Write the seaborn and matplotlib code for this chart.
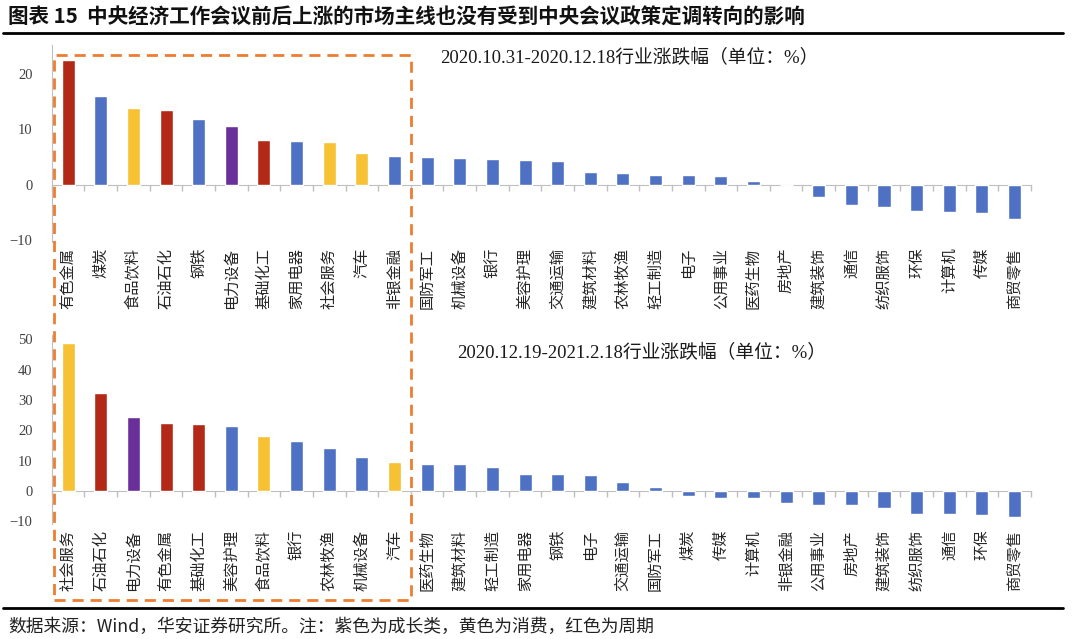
import numpy as np
import pandas as pd
import matplotlib
matplotlib.use("Agg")
import matplotlib.pyplot as plt
import seaborn as sns
from matplotlib.patches import Rectangle
from matplotlib.lines import Line2D

# ---- data ----
top_names = ["有色金属", "煤炭", "食品饮料", "石油石化", "钢铁", "电力设备", "基础化工", "家用电器",
             "社会服务", "汽车", "非银金融", "国防军工", "机械设备", "银行", "美容护理", "交通运输",
             "建筑材料", "农林牧渔", "轻工制造", "电子", "公用事业", "医药生物", "房地产", "建筑装饰",
             "通信", "纺织服饰", "环保", "计算机", "传媒", "商贸零售"]
top_values = [22.5, 16.0, 13.8, 13.5, 11.9, 10.6, 8.1, 7.8, 7.7, 5.6, 5.2, 4.9, 4.7, 4.6, 4.5,
              4.2, 2.2, 2.0, 1.7, 1.7, 1.5, 0.7, 0.0, -2.3, -3.7, -4.1, -4.8, -4.9, -5.2, -6.2]
top_groups = ["周期", "其他", "消费", "周期", "其他", "成长", "周期", "其他", "消费", "消费",
              "其他"] + ["其他"] * 19

bot_names = ["社会服务", "石油石化", "电力设备", "有色金属", "基础化工", "美容护理", "食品饮料", "银行",
             "农林牧渔", "机械设备", "汽车", "医药生物", "建筑材料", "轻工制造", "家用电器", "钢铁",
             "电子", "交通运输", "国防军工", "煤炭", "传媒", "计算机", "非银金融", "公用事业",
             "房地产", "建筑装饰", "纺织服饰", "通信", "环保", "商贸零售"]
bot_values = [48.7, 32.2, 24.4, 22.3, 22.2, 21.3, 18.2, 16.4, 14.0, 11.2, 9.6, 8.9, 8.9, 7.9, 5.7,
              5.5, 5.4, 2.9, 1.2, -1.5, -2.2, -2.4, -4.1, -4.5, -4.5, -5.7, -7.7, -7.7, -7.9, -8.7]
bot_groups = ["消费", "周期", "成长", "周期", "周期", "其他", "消费", "其他", "其他", "其他",
              "消费"] + ["其他"] * 19

top_title = "2020.10.31-2020.12.18行业涨跌幅（单位：%）"
bot_title = "2020.12.19-2021.2.18行业涨跌幅（单位：%）"
fig_title = "图表 15  中央经济工作会议前后上涨的市场主线也没有受到中央会议政策定调转向的影响"
source = "数据来源：Wind，华安证券研究所。注：紫色为成长类，黄色为消费，红色为周期"

palette = {"周期": "#B22A17", "消费": "#F6C233", "成长": "#6B2F9A", "其他": "#4F71C4"}

sns.set_style("white")
plt.rcParams["font.family"] = ["Noto Sans CJK SC", "DejaVu Sans"]
num_font = ["Liberation Serif", "Noto Sans CJK SC"]
grey = "#BFBFBF"

fig = plt.figure(figsize=(10.8, 6.39), dpi=100)
ax1 = fig.add_axes([0.048, 0.621, 0.9065, 0.308])
ax2 = fig.add_axes([0.048, 0.1794, 0.9065, 0.297])


def draw_panel(ax, names, values, groups, ylim, yticks):
    df = pd.DataFrame({"name": names, "value": values, "group": groups})
    sns.barplot(data=df, x="name", y="value", hue="group", order=names, palette=palette,
                dodge=False, width=0.4, legend=False, ax=ax, saturation=1)
    ax.set_xlim(-0.5, len(names) - 0.5)
    ax.set_ylim(*ylim)
    ax.set_yticks(yticks)
    ax.set_xlabel("")
    ax.set_ylabel("")
    for s in ["top", "right", "bottom"]:
        ax.spines[s].set_visible(False)
    ax.spines["left"].set_color(grey)
    ax.tick_params(axis="y", length=4, color=grey, labelcolor="#404040", labelsize=10.5, pad=10)
    for lab in ax.get_yticklabels():
        lab.set_family(num_font)
    ax.tick_params(axis="x", length=0, labelsize=11, labelcolor="#262626", pad=4, rotation=90)
    # zero axis with tick marks between categories
    sec = ax.secondary_xaxis(0, transform=ax.transData)
    sec.set_xticks(np.arange(len(names) + 1) - 0.5)
    sec.set_xticklabels([])
    sec.tick_params(axis="x", length=4, color=grey, width=1)
    sec.spines["bottom"].set_color(grey)


draw_panel(ax1, top_names, top_values, top_groups, (-10.4, 25.1), [-10, 0, 10, 20])
draw_panel(ax2, bot_names, bot_values, bot_groups, (-11, 51.5), [-10, 0, 10, 20, 30, 40, 50])

fig.text(629 / 1080, 1 - 58 / 639, top_title, ha="center", va="center", fontsize=13.5,
         family=num_font, color="#1a1a1a")
fig.text(642 / 1080, 1 - 353 / 639, bot_title, ha="center", va="center", fontsize=13.5,
         family=num_font, color="#1a1a1a")

fig.text(8 / 1080, 1 - 17 / 639, fig_title, ha="left", va="center", fontsize=14.8,
         fontweight="bold", color="#111111")
fig.text(8 / 1080, 1 - 627 / 639, source, ha="left", va="center", fontsize=12.8,
         color="#222222")

for yy in [33, 608]:
    fig.add_artist(Line2D([3 / 1080, 1063 / 1080], [1 - yy / 639, 1 - yy / 639],
                          color="black", lw=2, transform=fig.transFigure))

# dashed box around the first 11 industries
x_left = fig.transFigure.inverted().transform(ax1.transData.transform((-0.42, 0)))[0]
x_right = fig.transFigure.inverted().transform(ax1.transData.transform((10.5, 0)))[0]
y_top = 1 - 55 / 639
y_bot = 1 - 600 / 639
fig.add_artist(Rectangle((x_left, y_bot), x_right - x_left, y_top - y_bot, fill=False,
                         edgecolor="#ED7D31", lw=2, linestyle=(0, (4, 2.5)),
                         transform=fig.transFigure))

fig.savefig("out.png", dpi=100)
